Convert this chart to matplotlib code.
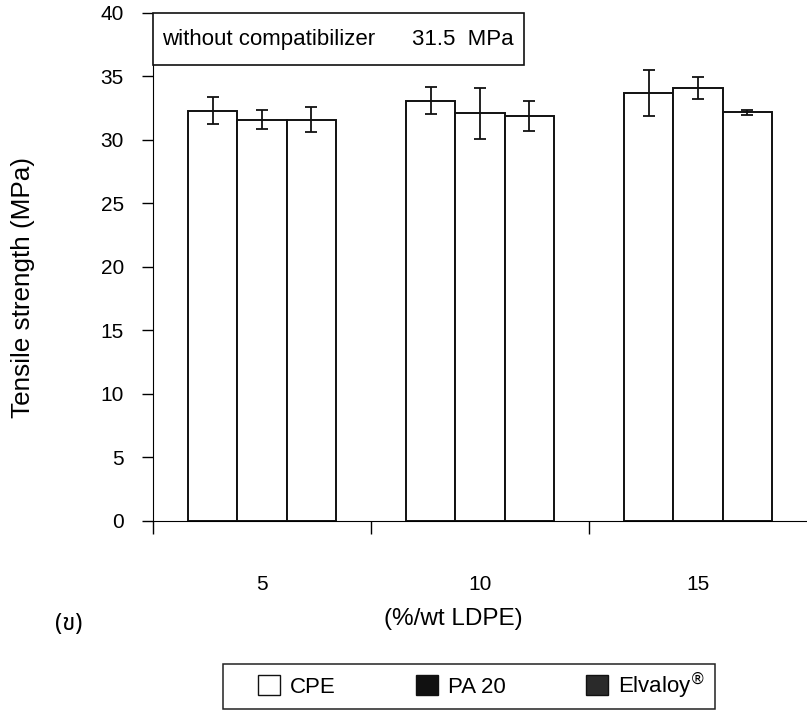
import numpy as np
import matplotlib
matplotlib.use('Agg')
import matplotlib.pyplot as plt
from matplotlib.patches import Patch, Rectangle

plt.rcParams['font.family'] = ['Liberation Sans', 'DejaVu Sans']

categories = ['5', '10', '15']
series = ['CPE', 'PA 20', 'Elvaloy$^{\\circledR}$']
cpe = [32.3, 33.1, 33.7]
cpe_err = [1.05, 1.05, 1.8]
pa20 = [31.6, 32.1, 34.1]
pa20_err = [0.75, 2.0, 0.85]
elvaloy = [31.6, 31.9, 32.2]
elvaloy_err = [1.0, 1.2, 0.2]

fig = plt.figure(figsize=(8.07, 7.10), dpi=100)
ax = fig.add_axes([0.1896, 0.2662, 0.8104, 0.7155])

x = np.arange(len(categories))
w = 0.225
for i, (vals, errs) in enumerate([(cpe, cpe_err), (pa20, pa20_err), (elvaloy, elvaloy_err)]):
    ax.bar(x + 0.5 + (i - 1) * w, vals, w, yerr=errs, color='white', edgecolor='#111111',
           linewidth=1.4, capsize=4.5, error_kw=dict(elinewidth=1.3, capthick=1.3, ecolor='#111111'))

ax.set_xlim(0, 3)
ax.set_ylim(0, 40)
ax.set_yticks(range(0, 41, 5))
ax.set_xticks([0, 1, 2])
ax.set_xticklabels([])
ax.set_xticks(x + 0.5, minor=True)
ax.set_xticklabels(categories, minor=True)
ax.tick_params(axis='x', which='major', length=9, direction='out', width=1)
ax.tick_params(axis='x', which='minor', length=0, pad=39, labelsize=15)
ax.tick_params(axis='y', length=8, width=1, labelsize=15, pad=13)
ax.spines['top'].set_visible(False)
ax.spines['right'].set_visible(False)
ax.set_ylabel('Tensile strength (MPa)', fontsize=18.8)
ax.yaxis.set_label_coords(-0.181, 0.459)
ax.set_xlabel('(%/wt LDPE)', fontsize=17.5)
ax.xaxis.set_label_coords(0.459, -0.171)

fig.text(0.085, 0.121, '(ข)', fontsize=17, ha='center', va='center',
         family=['Noto Sans Thai', 'Loma', 'Garuda', 'DejaVu Sans'])

# note box in the top-left corner
ax.add_patch(Rectangle((0, 0.897), 0.567, 0.103, transform=ax.transAxes, facecolor='white',
                       edgecolor='#111111', linewidth=1.2, clip_on=False, zorder=5))
ax.text(0.014, 0.947, 'without compatibilizer', transform=ax.transAxes, fontsize=16,
        va='center', ha='left', zorder=6)
ax.text(0.396, 0.947, '31.5  MPa', transform=ax.transAxes, fontsize=16,
        va='center', ha='left', zorder=6)

# legend with its own frame
fig.add_artist(Rectangle((223 / 807, 1 - 709 / 710), 492 / 807, 45 / 710, transform=fig.transFigure,
                         facecolor='white', edgecolor='#222222', linewidth=1.1))
handles = [Patch(facecolor='white', edgecolor='#111111'),
           Patch(facecolor='#111111', edgecolor='#111111'),
           Patch(facecolor='#2a2a2a', edgecolor='#111111')]
leg = fig.legend(handles, series, loc='center', bbox_to_anchor=(0.597, 0.034), ncol=3,
                 fontsize=16, frameon=False,
                 handlelength=1.0, handleheight=1.0, handletextpad=0.45,
                 columnspacing=3.6, borderpad=0, borderaxespad=0)

fig.savefig('out.png', dpi=100)
